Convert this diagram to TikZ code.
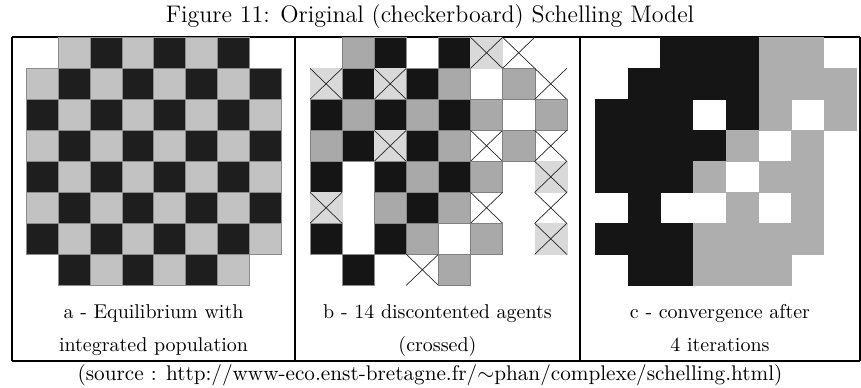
\documentclass[tikz,border=0pt]{standalone}
\usepackage{tikz}

\definecolor{agentblack}{HTML}{1E1E1E}
\definecolor{agentgrey}{HTML}{C2C2C2}
\definecolor{moverblack}{HTML}{151515}
\definecolor{movergrey}{HTML}{A9A9A9}
\definecolor{unhappygrey}{HTML}{D9D9D9}
\definecolor{finalgrey}{HTML}{AEAEAE}

\begin{document}
\begin{tikzpicture}[
  x=0.5pt, y=-0.5pt,
  cell/.style={draw=black!45, line width=0.2pt},
  blackcell/.style={cell, fill=agentblack},
  greycell/.style={cell, fill=agentgrey},
  crossline/.style={draw=black!85, line width=0.35pt},
  frame/.style={line width=0.8pt},
  caption/.style={font=\fontsize{10}{12}\selectfont, anchor=base, inner sep=0pt},
  title/.style={font=\fontsize{12}{14}\selectfont, anchor=base, inner sep=0pt}
]
\useasboundingbox (0,0) rectangle (861,387);

% Title and frame
\node[title] (figtitle) at (430,22) {Figure 11: Original (checkerboard) Schelling Model};
\draw[frame] (12,37) -- (860,37);
\draw[frame] (12,361) -- (860,361);
\draw[frame] (12,37) -- (12,361);
\draw[frame] (295,37) -- (295,361);
\draw[frame] (580,37) -- (580,361);
\draw[frame] (860,37) -- (860,361);

% Panel a: checkerboard
\def\rh{31}
\begin{scope}[shift={(26,37.3)}]
  \def\cw{31.9}
  \foreach \r in {0,...,7}
    \foreach \c in {0,...,7} {
      \pgfmathtruncatemacro{\corner}{(\r==0 || \r==7) && (\c==0 || \c==7)}
      \pgfmathtruncatemacro{\odd}{mod(\r+\c,2)}
      \ifnum\corner=0
        \ifnum\odd=1
          \filldraw[greycell] (\c*\cw,\r*\rh) rectangle ++(\cw,\rh);
        \else
          \filldraw[blackcell] (\c*\cw,\r*\rh) rectangle ++(\cw,\rh);
        \fi
      \fi
    }
\end{scope}

% Panel b: 0 empty, 1 black, 2 grey, 3 crossed grey, 4 crossed empty
\begin{scope}[shift={(310,37.3)}]
  \def\cw{32.1}
  \foreach \cells [count=\r from 0] in {
      {0,2,1,0,1,3,4,0},
      {3,1,3,1,2,0,2,4},
      {1,2,1,2,1,2,0,2},
      {2,1,3,1,2,4,2,4},
      {1,0,1,2,1,2,0,3},
      {3,0,2,1,2,4,0,4},
      {1,0,1,2,0,2,0,3},
      {0,1,0,4,2,0,0,0}}
    \foreach \v [count=\c from 0] in \cells {
      \ifcase\v
      \or \filldraw[cell, fill=moverblack] (\c*\cw,\r*\rh) rectangle ++(\cw,\rh);
      \or \filldraw[cell, fill=movergrey, draw=black!50] (\c*\cw,\r*\rh) rectangle ++(\cw,\rh);
      \or \filldraw[cell, fill=unhappygrey, draw=unhappygrey] (\c*\cw,\r*\rh) rectangle ++(\cw,\rh);
          \draw[crossline] (\c*\cw,\r*\rh) -- ++(\cw,\rh) ++(-\cw,0) -- ++(\cw,-\rh);
      \or \draw[crossline] (\c*\cw,\r*\rh) -- ++(\cw,\rh) ++(-\cw,0) -- ++(\cw,-\rh);
      \fi
    }
\end{scope}

% Panel c: 0 empty, 1 black, 2 grey
\begin{scope}[shift={(595,37.3)}]
  \def\cw{32.7}
  \foreach \cells [count=\r from 0] in {
      {0,0,1,1,1,2,2,0},
      {0,1,1,1,1,2,2,2},
      {1,1,1,0,1,2,0,2},
      {1,1,1,1,2,0,2,0},
      {1,1,1,2,0,2,2,0},
      {0,1,0,0,2,0,2,0},
      {1,1,1,2,2,2,2,0},
      {0,1,1,2,2,2,0,0}}
    \foreach \v [count=\c from 0] in \cells {
      \ifcase\v
      \or \fill[moverblack] (\c*\cw,\r*\rh) rectangle ++(\cw+0.3,\rh+0.3);
      \or \fill[finalgrey] (\c*\cw,\r*\rh) rectangle ++(\cw+0.3,\rh+0.3);
      \fi
    }
\end{scope}

% Captions
\node[caption] (capa1) at (153.5,318) {a - Equilibrium with};
\node[caption] (capa2) at (153.5,351) {integrated population};
\node[caption] (capb1) at (437.5,318) {b - 14 discontented agents};
\node[caption] (capb2) at (437.5,351) {(crossed)};
\node[caption] (capc1) at (720,318) {c - convergence after};
\node[caption] (capc2) at (720,351) {4 iterations};
\node[caption, font=\fontsize{10.6}{12}\selectfont] (source) at (430,380) {(source : http://www-eco.enst-bretagne.fr/$\sim$phan/complexe/schelling.html)};
\end{tikzpicture}
\end{document}
